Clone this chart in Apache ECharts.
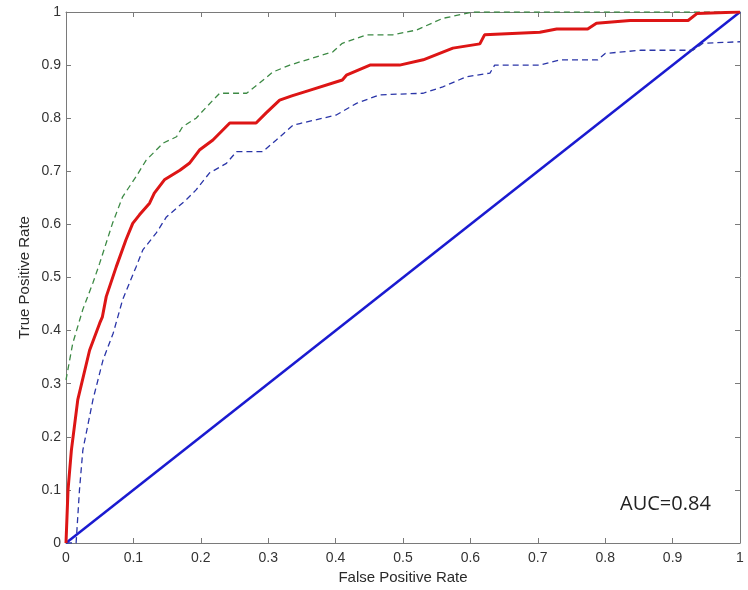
<!DOCTYPE html>
<html>
<head>
<meta charset="utf-8">
<script src="https://cdn.jsdelivr.net/npm/echarts@6/dist/echarts.min.js"></script>
<style>
  html, body { margin: 0; padding: 0; background: #fff; }
  #chart { width: 748px; height: 590px; }
</style>
</head>
<body>
<div id="chart"></div>
<script>
// ROC curve: mean curve, upper/lower confidence bounds and chance diagonal
const tickLabels = ['0', '0.1', '0.2', '0.3', '0.4', '0.5', '0.6', '0.7', '0.8', '0.9', '1'];

const rocFpr = [0, 0.003, 0.008, 0.0175, 0.035, 0.05, 0.054, 0.0597, 0.0745, 0.089, 0.099, 0.109, 0.124, 0.131, 0.146, 0.169, 0.183, 0.198, 0.218, 0.243, 0.282, 0.297, 0.317, 0.335, 0.36, 0.41, 0.416, 0.451, 0.495, 0.53, 0.574, 0.614, 0.621, 0.703, 0.728, 0.774, 0.787, 0.837, 0.923, 0.936, 1];
const rocTpr = [0, 0.1, 0.175, 0.27, 0.363, 0.414, 0.426, 0.464, 0.52, 0.571, 0.602, 0.618, 0.64, 0.659, 0.684, 0.702, 0.715, 0.74, 0.759, 0.791, 0.791, 0.81, 0.834, 0.842, 0.852, 0.872, 0.881, 0.90, 0.90, 0.91, 0.932, 0.94, 0.957, 0.962, 0.968, 0.968, 0.979, 0.984, 0.984, 0.997, 1];

const upperFpr = [0, 0.01, 0.025, 0.04, 0.05, 0.069, 0.084, 0.104, 0.119, 0.144, 0.164, 0.173, 0.193, 0.218, 0.228, 0.268, 0.287, 0.307, 0.332, 0.347, 0.396, 0.41, 0.446, 0.485, 0.52, 0.559, 0.604, 1];
const upperTpr = [0.307, 0.376, 0.44, 0.49, 0.527, 0.602, 0.652, 0.69, 0.721, 0.753, 0.765, 0.784, 0.80, 0.834, 0.847, 0.847, 0.866, 0.887, 0.90, 0.906, 0.925, 0.941, 0.957, 0.957, 0.966, 0.988, 1, 1];

const lowerFpr = [0, 0.015, 0.02, 0.025, 0.04, 0.055, 0.07, 0.084, 0.104, 0.114, 0.134, 0.149, 0.178, 0.193, 0.213, 0.238, 0.253, 0.292, 0.312, 0.337, 0.347, 0.401, 0.431, 0.465, 0.53, 0.559, 0.594, 0.629, 0.636, 0.703, 0.733, 0.789, 0.80, 0.853, 0.93, 0.945, 1];
const lowerTpr = [0, 0, 0.1, 0.175, 0.27, 0.345, 0.395, 0.458, 0.52, 0.552, 0.584, 0.614, 0.646, 0.665, 0.697, 0.715, 0.737, 0.737, 0.759, 0.787, 0.790, 0.806, 0.828, 0.844, 0.847, 0.859, 0.878, 0.885, 0.90, 0.90, 0.91, 0.91, 0.922, 0.928, 0.928, 0.941, 0.944];

const chanceFpr = [0, 1];
const chanceTpr = [0, 1];

const aucText = 'AUC=0.84';

const pairs = (xs, ys) => xs.map((x, i) => [x, ys[i]]);
const fmt = v => tickLabels[Math.round(v * 10)] ?? '';

const frameColor = '#7a7a7a';
const sansFamily = 'Liberation Sans, Arial, sans-serif';
const labelFont = { color: '#333', fontSize: 14, fontFamily: sansFamily };
const nameFont = { color: '#2a2a2a', fontSize: 15, fontFamily: sansFamily };

const chart = echarts.init(document.getElementById('chart'), null, { renderer: 'canvas' });

const baseAxis = {
  type: 'value', min: 0, max: 1, interval: 0.1,
  axisLine: { show: true, onZero: false, lineStyle: { color: frameColor, width: 1 } },
  axisTick: { show: true, inside: true, length: 5, lineStyle: { color: frameColor } },
  splitLine: { show: false }
};

chart.setOption({
  animation: false,
  backgroundColor: '#fff',
  grid: { left: 66, top: 12, right: 8, bottom: 47, containLabel: false },
  xAxis: [
    Object.assign({}, baseAxis, {
      position: 'bottom',
      name: 'False Positive Rate', nameLocation: 'middle', nameGap: 27,
      nameTextStyle: nameFont,
      axisLabel: Object.assign({ formatter: fmt, margin: 8 }, labelFont)
    }),
    Object.assign({}, baseAxis, { position: 'top', axisLabel: { show: false } })
  ],
  yAxis: [
    Object.assign({}, baseAxis, {
      position: 'left',
      name: 'True Positive Rate', nameLocation: 'middle', nameGap: 34,
      nameMoveOverlap: false,
      nameTextStyle: nameFont,
      axisLabel: Object.assign({ formatter: fmt, margin: 5 }, labelFont)
    }),
    Object.assign({}, baseAxis, { position: 'right', axisLabel: { show: false } })
  ],
  series: [
    {
      type: 'line', data: pairs(chanceFpr, chanceTpr), showSymbol: false, z: 2,
      lineStyle: { color: '#1a1ad0', width: 2.5 }
    },
    {
      type: 'line', data: pairs(upperFpr, upperTpr), showSymbol: false, z: 3,
      lineStyle: { color: '#3d8a45', width: 1.3, type: [6, 4] }
    },
    {
      type: 'line', data: pairs(lowerFpr, lowerTpr), showSymbol: false, z: 3,
      lineStyle: { color: '#2a35a8', width: 1.3, type: [6, 4] }
    },
    {
      type: 'line', data: pairs(rocFpr, rocTpr), showSymbol: false, z: 4,
      lineStyle: { color: '#dd1515', width: 3 }
    }
  ],
  graphic: [
    {
      type: 'text', left: 620, top: 494,
      style: { text: aucText, fill: '#222', fontSize: 20, fontFamily: 'Open Sans, sans-serif' }
    }
  ]
});
</script>
</body>
</html>
